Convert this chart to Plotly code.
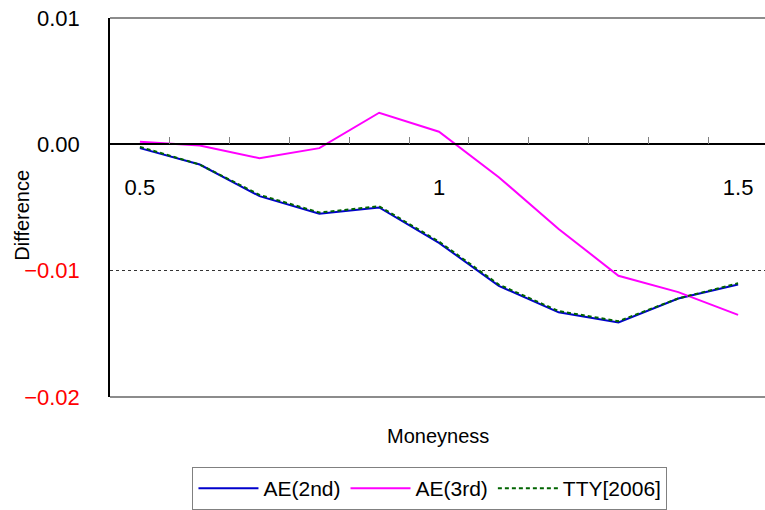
import plotly.graph_objects as go

moneyness = ["0.5", "0.6", "0.7", "0.8", "0.9", "1", "1.1", "1.2", "1.3", "1.4", "1.5"]
ae2 = [-0.0003, -0.0016, -0.0041, -0.0055, -0.0050, -0.0078, -0.0112, -0.0133, -0.0141, -0.0122, -0.0111]
ae3 = [0.0002, -0.0001, -0.0011, -0.0003, 0.0025, 0.0010, -0.0026, -0.0067, -0.0104, -0.0117, -0.0135]
tty = [-0.0002, -0.0016, -0.0040, -0.0054, -0.0049, -0.0077, -0.0111, -0.0132, -0.0140, -0.0122, -0.0110]

x_labels = ["0.5", "", "", "", "", "1", "", "", "", "", "1.5"]
y_vals = [0.01, 0.0, -0.01, -0.02]
y_text = ["0.01", "0.00", "<span style='color:#FF0000'>\u22120.01</span>",
          "<span style='color:#FF0000'>\u22120.02</span>"]

FONT = "Liberation Sans, Arial, sans-serif"

fig = go.Figure()
fig.add_trace(go.Scatter(x=moneyness, y=ae2, mode="lines", name="AE(2nd)",
                         line=dict(color="#0000CC", width=2)))
fig.add_trace(go.Scatter(x=moneyness, y=ae3, mode="lines", name="AE(3rd)",
                         line=dict(color="#FF00FF", width=2)))
fig.add_trace(go.Scatter(x=moneyness, y=tty, mode="lines", name="TTY[2006]",
                         line=dict(color="#006400", width=2, dash="4px,3px")))

fig.update_layout(
    width=765, height=510,
    margin=dict(l=110, r=0, t=18, b=110),
    paper_bgcolor="white", plot_bgcolor="white",
    font=dict(family=FONT, color="black"),
    showlegend=True,
    legend=dict(orientation="h", x=0.4885, xanchor="center", y=-0.186, yanchor="top",
                bordercolor="#808080", borderwidth=1, font=dict(size=21, family=FONT),
                itemwidth=60, traceorder="normal", tracegroupgap=0),
    xaxis=dict(type="category", categoryorder="array", categoryarray=moneyness,
               range=[-0.5, 10.45], anchor="free", position=2/3,
               showline=True, linecolor="black", linewidth=1.5,
               showgrid=False, zeroline=False,
               tickmode="array", tickvals=moneyness, ticktext=x_labels,
               tickson="boundaries", ticks="inside", ticklen=7, tickcolor="#808080",
               tickwidth=1, ticklabelstandoff=24,
               tickfont=dict(size=22, family=FONT, color="black")),
    yaxis=dict(range=[-0.02, 0.01], tickmode="array", tickvals=y_vals, ticktext=y_text,
               showline=True, linecolor="black", linewidth=1.5,
               showgrid=True, gridcolor="#333333", gridwidth=1, griddash="dot",
               zeroline=False, ticks="", ticklabelstandoff=24,
               tickfont=dict(size=22, family=FONT, color="black")),
    shapes=[
        dict(type="line", xref="paper", yref="paper", x0=0, x1=1, y0=1, y1=1,
             line=dict(color="#8c8c8c", width=2)),
        dict(type="line", xref="paper", yref="paper", x0=0, x1=1, y0=0, y1=0,
             line=dict(color="#8c8c8c", width=2)),
    ],
    annotations=[
        dict(text="Difference", xref="paper", yref="paper", x=-0.134, y=0.479,
             textangle=-90, showarrow=False, font=dict(size=20, family=FONT),
             xanchor="center", yanchor="middle"),
        dict(text="Moneyness", xref="paper", yref="paper", x=0.5, y=-0.102,
             showarrow=False, font=dict(size=20, family=FONT),
             xanchor="center", yanchor="middle"),
    ],
)

fig.write_html("out.html")
